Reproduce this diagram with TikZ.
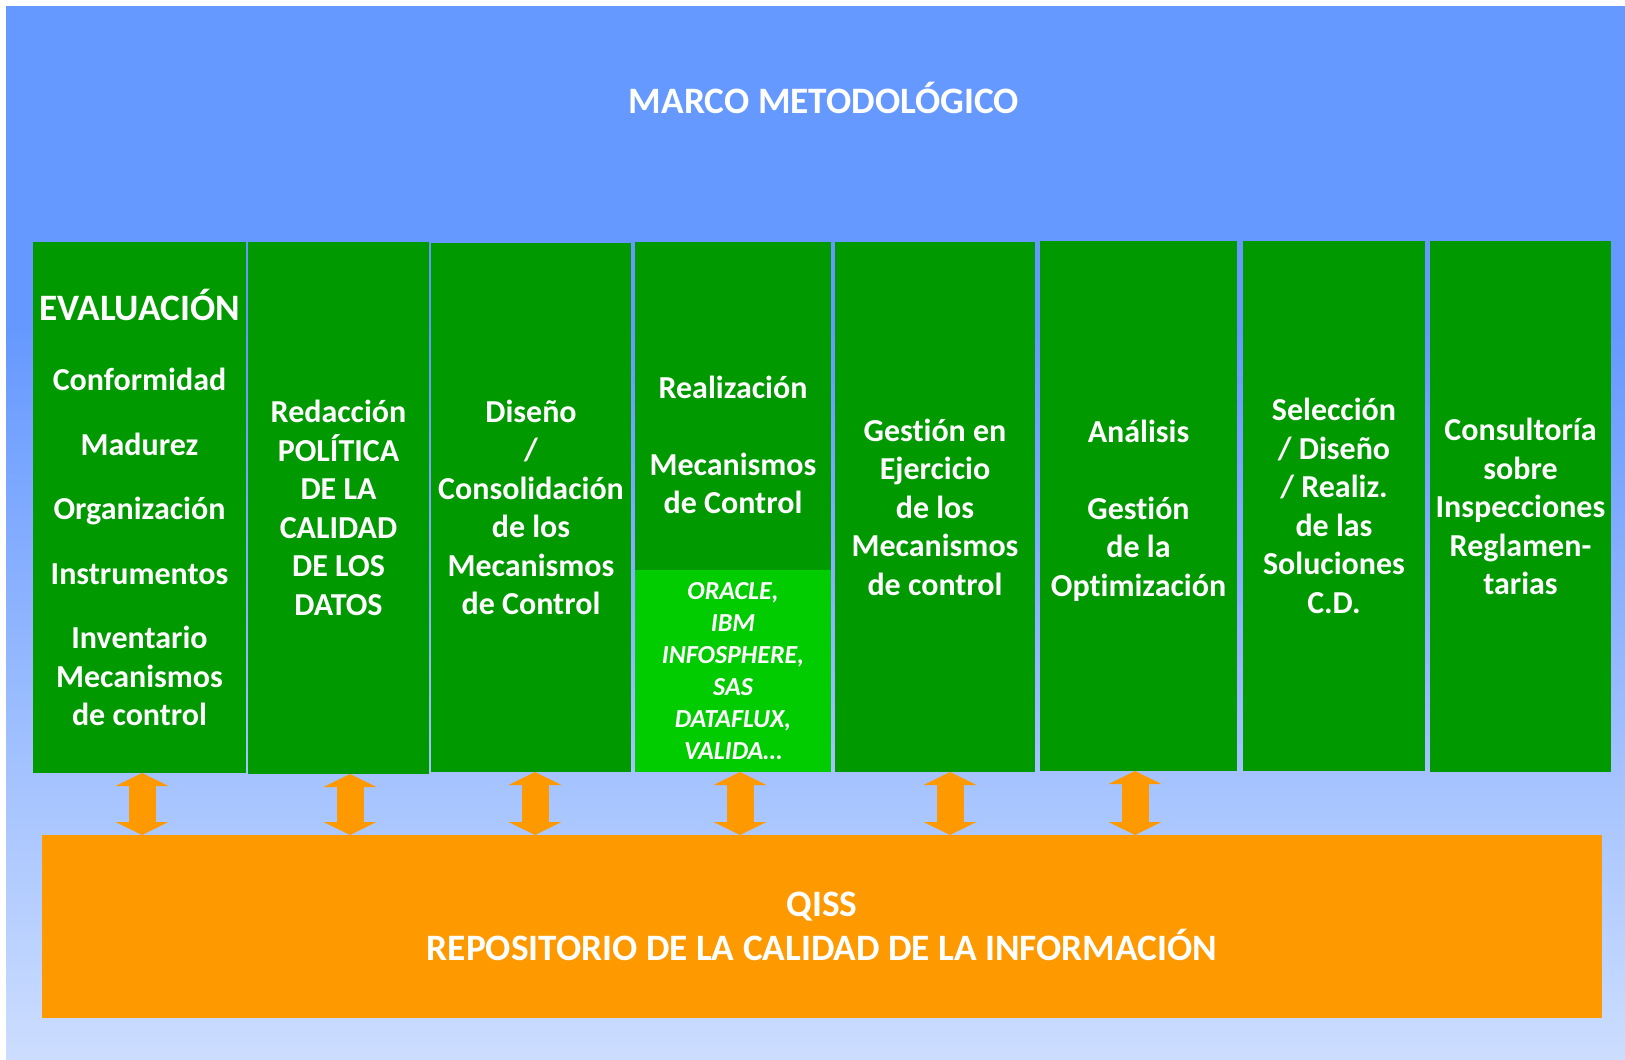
\documentclass[tikz,border=0pt]{standalone}
\usepackage{fontspec}
\setmainfont{Carlito}[Ligatures=NoCommon]
\usetikzlibrary{arrows.meta}
\definecolor{topblue}{HTML}{6699FF}
\definecolor{midblue}{HTML}{B3C9FF}
\definecolor{lowblue}{HTML}{CCDDFF}
\definecolor{colgreen}{HTML}{009900}
\definecolor{toolgreen}{HTML}{00CC00}
\definecolor{qissorange}{HTML}{FF9900}
\begin{document}
\begin{tikzpicture}[x=1pt,y=-1pt,
    col/.style={fill=colgreen,text=white,align=center,inner sep=0pt,outer sep=0pt,
      anchor=north west,font=\bfseries\fontsize{32}{38.5}\selectfont},
    dblarrow/.style={draw=qissorange,line width=27pt,
      {Triangle[width=53pt 0 0,length=13pt 0 0,line width=0pt 0 0]}-{Triangle[width=53pt 0 0,length=13pt 0 0,line width=0pt 0 0]}}]
    \useasboundingbox (0,0) rectangle (1625,1060);
    % background
    \fill[white] (0,0) rectangle (1625,1060);
    \fill[topblue] (6,6) rectangle (1625,331);
    \shade[top color=topblue,middle color=midblue,bottom color=lowblue] (6,330) rectangle (1625,1060);
    \node[text=white,font=\bfseries\fontsize{37.3}{43}\selectfont] (title) at (824,98) {MARCO METODOLÓGICO};
    % columns
    \node[col,minimum width=213pt,minimum height=531pt] (eval) at (33,242)
      {{\fontsize{37.3}{38.5}\selectfont EVALUACIÓN}\\[32pt]Conformidad\\[26pt]Madurez\\[26pt]Organización\\[26pt]Instrumentos\\[26pt]Inventario\\Mecanismos\\de control};
    \node[col,minimum width=181pt,minimum height=532pt] (politica) at (248,242)
      {Redacción\\POLÍTICA\\DE LA\\CALIDAD\\DE LOS\\DATOS};
    \node[col,minimum width=200pt,minimum height=529pt] (diseno) at (431,243)
      {Diseño\\/\\Consolidación\\de los\\Mecanismos\\de Control};
    \node[col,minimum width=196pt,minimum height=530pt] (realiz) at (635,242) {};
    \node[col,fill=toolgreen,minimum width=196pt,minimum height=202pt,
      font=\bfseries\itshape\fontsize{26}{32}\selectfont] (tools) at (635,570)
      {ORACLE,\\IBM\\INFOSPHERE,\\SAS\\DATAFLUX,\\VALIDA…};
    \node[text=white,align=center,font=\bfseries\fontsize{32}{38.5}\selectfont] (realiztxt) at (733,445)
      {Realización\\[38.5pt]Mecanismos\\de Control};
    \node[col,minimum width=200pt,minimum height=530pt] (gestion) at (835,242)
      {Gestión en\\Ejercicio\\de los\\Mecanismos\\de control};
    \node[col,minimum width=197pt,minimum height=530pt] (analisis) at (1040,241)
      {\rule{0pt}{32pt}Análisis\\[38.5pt]Gestión\\de la\\Optimización};
    \node[col,minimum width=182pt,minimum height=530pt] (seleccion) at (1243,241)
      {Selección\\/ Diseño\\/ Realiz.\\de las\\Soluciones\\C.D.};
    \node[col,minimum width=181pt,minimum height=531pt] (consult) at (1430,241)
      {Consultoría\\sobre\\Inspecciones\\Reglamen-\\tarias};
    % repository
    \node[col,fill=qissorange,minimum width=1560pt,minimum height=183pt,
      font=\bfseries\fontsize{37.3}{44.5}\selectfont] (repo) at (42,835)
      {QISS\\REPOSITORIO DE LA CALIDAD DE LA INFORMACIÓN};
    \foreach \c/\dx in {eval/2.5,politica/11.5,diseno/4,realiz/7,gestion/15,analisis/-3.5}
      \draw[dblarrow] ([xshift=\dx pt]\c.south) -- ([xshift=\dx pt]\c.south |- repo.north);
\end{tikzpicture}
\end{document}
